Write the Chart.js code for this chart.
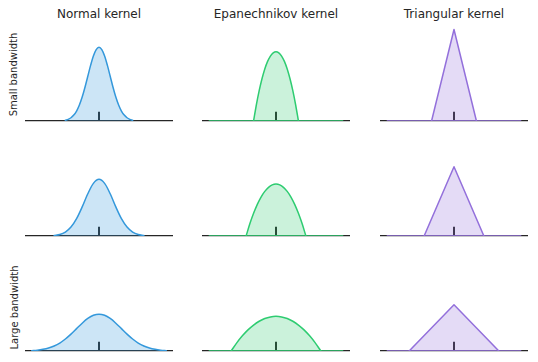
<!DOCTYPE html>
<html>
<head>
<meta charset="utf-8">
<script src="https://cdn.jsdelivr.net/npm/chart.js@4"></script>
<style>
  html, body { margin: 0; padding: 0; background: #fff; }
  body { width: 538px; height: 362px; position: relative; overflow: hidden; font-family: "DejaVu Sans", sans-serif; color: #262626; }
  .title { position: absolute; top: 7px; font-size: 12px; text-align: center; width: 200px; white-space: nowrap; }
  .rowlabel { position: absolute; font-size: 10px; white-space: nowrap; transform-origin: center center; }
  canvas { position: absolute; }
</style>
</head>
<body>
<script>
// ---- data ----
const kernels = ["Normal kernel", "Epanechnikov kernel", "Triangular kernel"];
const rowLabels = ["Small bandwidth", "", "Large bandwidth"];
const observations = [0];
const rugHeight = 0.1;
const baselineX = [-3, 3];

// Normal kernel (density)
const normalSmallX = [-1.5,-1.375,-1.25,-1.125,-1,-0.875,-0.75,-0.625,-0.5,-0.375,-0.25,-0.125,0,0.125,0.25,0.375,0.5,0.625,0.75,0.875,1,1.125,1.25,1.375,1.5];
const normalSmallY = [0.009,0.018,0.035,0.064,0.108,0.173,0.259,0.365,0.484,0.602,0.704,0.773,0.798,0.773,0.704,0.602,0.484,0.365,0.259,0.173,0.108,0.064,0.035,0.018,0.009];
const normalMidX = [-2,-1.75,-1.5,-1.25,-1,-0.75,-0.5,-0.25,0,0.25,0.5,0.75,1,1.25,1.5,1.75,2];
const normalMidY = [0.005,0.016,0.043,0.097,0.188,0.315,0.457,0.570,0.614,0.570,0.457,0.315,0.188,0.097,0.043,0.016,0.005];
const normalLargeX = [-3,-2.75,-2.5,-2.25,-2,-1.75,-1.5,-1.25,-1,-0.75,-0.5,-0.25,0,0.25,0.5,0.75,1,1.25,1.5,1.75,2,2.25,2.5,2.75,3];
const normalLargeY = [0.004,0.009,0.018,0.032,0.054,0.086,0.130,0.183,0.242,0.301,0.352,0.387,0.399,0.387,0.352,0.301,0.242,0.183,0.130,0.086,0.054,0.032,0.018,0.009,0.004];

// Epanechnikov kernel
const epanSmallX = [-1,-0.875,-0.75,-0.625,-0.5,-0.375,-0.25,-0.125,0,0.125,0.25,0.375,0.5,0.625,0.75,0.875,1];
const epanSmallY = [0,0.176,0.328,0.457,0.563,0.645,0.703,0.738,0.75,0.738,0.703,0.645,0.563,0.457,0.328,0.176,0];
const epanMidX = [-1.333,-1.167,-1,-0.833,-0.667,-0.5,-0.333,-0.167,0,0.167,0.333,0.5,0.667,0.833,1,1.167,1.333];
const epanMidY = [0,0.132,0.246,0.343,0.422,0.483,0.527,0.554,0.563,0.554,0.527,0.483,0.422,0.343,0.246,0.132,0];
const epanLargeX = [-2,-1.75,-1.5,-1.25,-1,-0.75,-0.5,-0.25,0,0.25,0.5,0.75,1,1.25,1.5,1.75,2];
const epanLargeY = [0,0.088,0.164,0.229,0.281,0.322,0.352,0.369,0.375,0.369,0.352,0.322,0.281,0.229,0.164,0.088,0];

// Triangular kernel
const triSmallX = [-1,0,1];
const triSmallY = [0,0.99,0];
const triMidX = [-1.333,0,1.333];
const triMidY = [0,0.75,0];
const triLargeX = [-2,0,2];
const triLargeY = [0,0.5,0];

const colors = [
  { line: "#3498db", fill: "rgba(52,152,219,0.25)" },
  { line: "#2ecc71", fill: "rgba(46,204,113,0.25)" },
  { line: "#9370db", fill: "rgba(147,112,219,0.25)" }
];

const panels = [
  [[normalSmallX, normalSmallY, false], [epanSmallX, epanSmallY, true], [triSmallX, triSmallY, true]],
  [[normalMidX, normalMidY, false], [epanMidX, epanMidY, true], [triMidX, triMidY, true]],
  [[normalLargeX, normalLargeY, false], [epanLargeX, epanLargeY, true], [triLargeX, triLargeY, true]]
];

// ---- layout ----
const colLeft = [25, 202, 380];
const colWidth = 148;
const rowTop = [24, 139, 254];
const areaHeight = 97;
const padBottom = 3;

kernels.forEach((k, c) => {
  const d = document.createElement("div");
  d.className = "title";
  d.textContent = k;
  d.style.left = (colLeft[c] + colWidth / 2 - 100) + "px";
  document.body.appendChild(d);
});

rowLabels.forEach((t, r) => {
  if (!t) return;
  const d = document.createElement("div");
  d.className = "rowlabel";
  d.textContent = t;
  document.body.appendChild(d);
  const w = d.offsetWidth, h = d.offsetHeight;
  const cx = 14, cy = rowTop[r] + areaHeight / 2 + (r === 0 ? 2 : 5);
  d.style.left = (cx - w / 2) + "px";
  d.style.top = (cy - h / 2) + "px";
  d.style.transform = "rotate(-90deg)";
});

const zip = (xs, ys) => xs.map((x, i) => ({ x: x, y: ys[i] }));

panels.forEach((row, r) => {
  row.forEach((p, c) => {
    const [xs, ys, hasBase] = p;
    const cv = document.createElement("canvas");
    cv.width = colWidth;
    cv.height = areaHeight + padBottom;
    cv.style.left = colLeft[c] + "px";
    cv.style.top = rowTop[r] + "px";
    document.body.appendChild(cv);
    const ds = [];
    if (hasBase) {
      ds.push({
        data: baselineX.map(x => ({ x: x, y: 0 })),
        borderColor: colors[c].line, borderWidth: 1.5, pointRadius: 0, fill: false, tension: 0
      });
    }
    ds.push({
      data: zip(xs, ys),
      borderColor: colors[c].line,
      backgroundColor: colors[c].fill,
      borderWidth: 1.5,
      borderJoinStyle: "round",
      borderCapStyle: "round",
      pointRadius: 0,
      fill: "origin",
      cubicInterpolationMode: c === 2 ? "default" : "monotone",
      tension: 0
    });
    observations.forEach(o => {
      ds.push({
        data: [{ x: o, y: 0 }, { x: o, y: rugHeight }],
        borderColor: "#262626", borderWidth: 2, pointRadius: 0, fill: false
      });
    });
    new Chart(cv, {
      type: "line",
      data: { datasets: ds },
      options: {
        responsive: false,
        animation: false,
        devicePixelRatio: 1,
        layout: { padding: { left: 0, right: 0, top: 0, bottom: padBottom } },
        plugins: { legend: { display: false }, tooltip: { enabled: false }, title: { display: false } },
        scales: {
          x: {
            type: "linear", min: -3.3, max: 3.3,
            grid: { display: false, drawTicks: false },
            border: { display: true, color: "#262626", width: 1.25 },
            ticks: { display: false }
          },
          y: { min: 0, max: 1.05, display: false }
        }
      }
    });
  });
});
</script>
</body>
</html>
